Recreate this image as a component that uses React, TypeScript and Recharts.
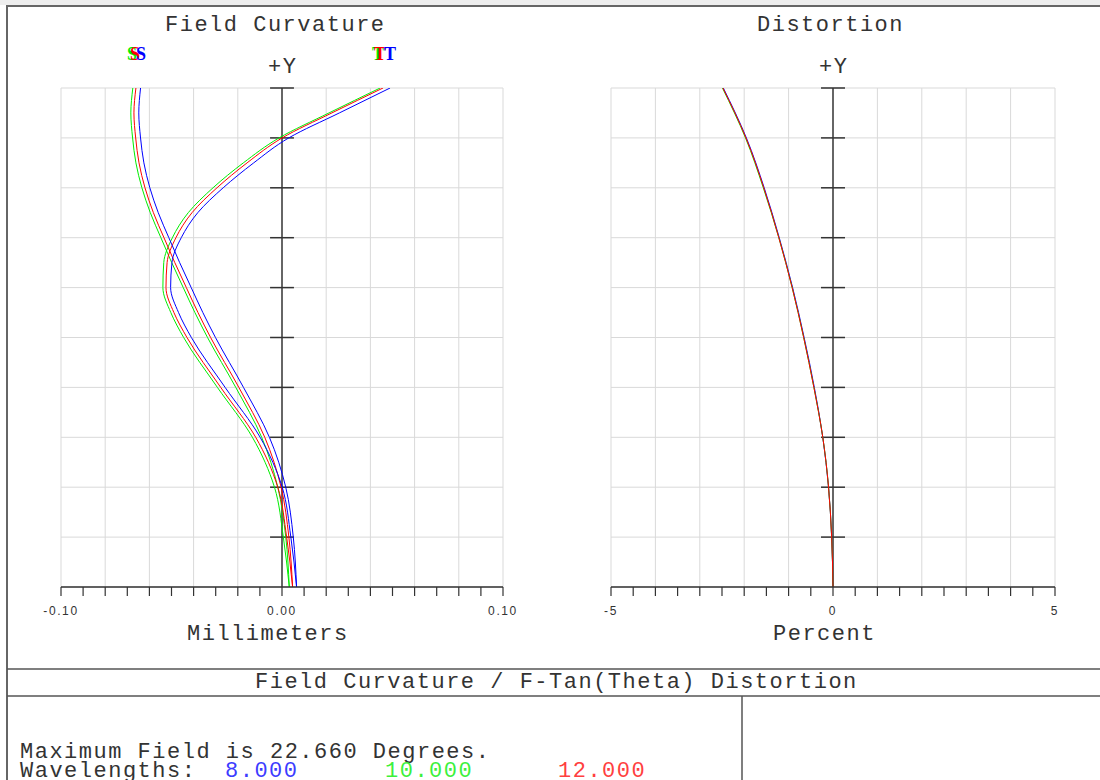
import React from 'react'
import { LineChart, Line, XAxis, YAxis, ReferenceLine } from 'recharts'

// field angle (deg) for field curvature samples
const fieldDeg = [0, 2.27, 4.53, 6.8, 9.06, 11.33, 12.46, 13.6, 14.73, 15.86, 17.0, 18.13, 19.26, 20.39, 21.53, 22.66]

// sagittal / tangential focus shift, mm
const sBlue = [0.0066, 0.0051, 0.0017, -0.0057, -0.0174, -0.0301, -0.0358, -0.0411, -0.0463, -0.0512, -0.056, -0.0598, -0.0625, -0.064, -0.0648, -0.064]
const sGreen = [0.0033, 0.0017, -0.0019, -0.0092, -0.0209, -0.0337, -0.0394, -0.0447, -0.0499, -0.0548, -0.0596, -0.0634, -0.0661, -0.0676, -0.0684, -0.0675]
const sRed = [0.0048, 0.0031, -0.0004, -0.0078, -0.0195, -0.0323, -0.038, -0.0433, -0.0485, -0.0534, -0.0582, -0.062, -0.0647, -0.0662, -0.067, -0.0661]
const tBlue = [0.0066, 0.004, 0.0001, -0.0099, -0.0257, -0.041, -0.0468, -0.0504, -0.0498, -0.0456, -0.0381, -0.0266, -0.0128, 0.003, 0.026, 0.0489]
const tGreen = [0.0033, 0.0006, -0.0034, -0.0134, -0.0292, -0.0445, -0.0503, -0.0539, -0.0535, -0.0496, -0.0424, -0.0312, -0.0175, -0.0014, 0.0213, 0.0444]
const tRed = [0.0048, 0.0021, -0.0019, -0.0119, -0.0277, -0.043, -0.0489, -0.0525, -0.052, -0.048, -0.0407, -0.0294, -0.0158, 0.0, 0.0226, 0.0457]

// distortion, percent
const distFieldDeg = [0, 2.27, 4.53, 6.8, 9.06, 11.33, 13.6, 15.86, 18.13, 20.39, 22.66]
const distBlue = [0, -0.03, -0.1, -0.23, -0.42, -0.65, -0.91, -1.21, -1.55, -1.95, -2.47]
const distGreen = [0, -0.03, -0.1, -0.23, -0.43, -0.66, -0.92, -1.22, -1.57, -1.97, -2.49]
const distRed = [0, -0.03, -0.1, -0.23, -0.43, -0.66, -0.92, -1.22, -1.56, -1.96, -2.48]

const fieldGrid = [0, 2.266, 4.532, 6.798, 9.064, 11.33, 13.596, 15.862, 18.128, 20.394, 22.66]

const fcTicks = [-0.1, -0.09, -0.08, -0.07, -0.06, -0.05, -0.04, -0.03, -0.02, -0.01, 0, 0.01, 0.02, 0.03, 0.04, 0.05, 0.06, 0.07, 0.08, 0.09, 0.1]
const fcGrid = [-0.1, -0.08, -0.06, -0.04, -0.02, 0.02, 0.04, 0.06, 0.08, 0.1]
const fcTickLabels: Record<string, string> = { '-0.1': '-0.10', '0': '0.00', '0.1': '0.10' }

const distTicks = [-5, -4.5, -4, -3.5, -3, -2.5, -2, -1.5, -1, -0.5, 0, 0.5, 1, 1.5, 2, 2.5, 3, 3.5, 4, 4.5, 5]
const distGrid = [-5, -4, -3, -2, -1, 1, 2, 3, 4, 5]
const distTickLabels: Record<string, string> = { '-5': '-5', '0': '0', '5': '5' }

const BLUE = '#0000ff'
const GREEN = '#00ee00'
const RED = '#ff0000'
const INK = '#333'
const MONO = "'Liberation Mono', 'DejaVu Sans Mono', monospace"
const SANS = "'Liberation Sans', Arial, sans-serif"

const toPoints = (xs: number[], ys: number[]) => ys.map((y, i) => ({ x: xs[i], y }))

interface Series { data: { x: number; y: number }[]; color: string }

function Panel({ width, margin, domain, ticks, grid, labels, series, tickHalf }: {
  width: number
  margin: { top: number; right: number; bottom: number; left: number }
  domain: [number, number]
  ticks: number[]
  grid: number[]
  labels: Record<string, string>
  series: Series[]
  tickHalf: number
}) {
  return (
    <LineChart width={width} height={660} margin={margin}>
      {grid.map(v => (
        <ReferenceLine key={'gx' + v} x={v} stroke="#d9d9d9" strokeWidth={1} />
      ))}
      {fieldGrid.map(v => (
        <ReferenceLine key={'gy' + v} y={v} stroke="#d9d9d9" strokeWidth={1} />
      ))}
      <ReferenceLine x={0} stroke={INK} strokeWidth={1.5} />
      {fieldGrid.slice(1).map(v => (
        <ReferenceLine
          key={'ct' + v}
          segment={[{ x: -tickHalf, y: v }, { x: tickHalf, y: v }]}
          stroke={INK}
          strokeWidth={1.5}
        />
      ))}
      <XAxis
        type="number"
        dataKey="x"
        domain={domain}
        ticks={ticks}
        interval={0}
        allowDataOverflow
        height={30}
        axisLine={{ stroke: INK, strokeWidth: 1.5 }}
        tickLine={{ stroke: INK, strokeWidth: 1.2 }}
        tickSize={9}
        tickMargin={10}
        tick={{ fontSize: 12, fill: INK, fontFamily: SANS, letterSpacing: 1.6 }}
        tickFormatter={(v: number) => labels[String(v)] ?? ''}
      />
      <YAxis type="number" domain={[0, 22.66]} hide allowDataOverflow />
      {series.map((s, i) => (
        <Line
          key={i}
          data={s.data}
          dataKey="y"
          type="monotoneY"
          stroke={s.color}
          strokeWidth={1}
          dot={false}
          isAnimationActive={false}
        />
      ))}
    </LineChart>
  )
}

const txt = { fontFamily: MONO, fontSize: 22, letterSpacing: 1.5, fill: INK }
const stLabel = { fontFamily: "'Liberation Serif', serif", fontWeight: 700, fontSize: 18 }

export default function App() {
  const fcSeries: Series[] = [
    { data: toPoints(sGreen, fieldDeg), color: GREEN },
    { data: toPoints(tGreen, fieldDeg), color: GREEN },
    { data: toPoints(sRed, fieldDeg), color: RED },
    { data: toPoints(tRed, fieldDeg), color: RED },
    { data: toPoints(sBlue, fieldDeg), color: BLUE },
    { data: toPoints(tBlue, fieldDeg), color: BLUE },
  ]
  const distSeries: Series[] = [
    { data: toPoints(distBlue, distFieldDeg), color: BLUE },
    { data: toPoints(distGreen, distFieldDeg), color: GREEN },
    { data: toPoints(distRed, distFieldDeg), color: RED },
  ]

  return (
    <div style={{ position: 'absolute', left: 0, top: 0, width: 1100, height: 780, background: '#fff', overflow: 'hidden' }}>
      <svg width={1100} height={780} style={{ position: 'absolute', left: 0, top: 0 }}>
        <rect x={0} y={0} width={1100} height={5} fill="#eeeeee" />
        <line x1={7} y1={6} x2={1100} y2={6} stroke="#666" strokeWidth={2} />
        <line x1={7} y1={5} x2={7} y2={780} stroke="#666" strokeWidth={2} />
        <line x1={7} y1={669} x2={1100} y2={669} stroke="#555" strokeWidth={1.5} />
        <line x1={7} y1={696} x2={1100} y2={696} stroke="#555" strokeWidth={1.5} />
        <line x1={742} y1={696} x2={742} y2={780} stroke="#555" strokeWidth={1.5} />

        <text x={165} y={31} style={txt}>Field Curvature</text>
        <text x={757} y={31} style={txt}>Distortion</text>
        <text x={268} y={73} style={txt}>+Y</text>
        <text x={819} y={73} style={txt}>+Y</text>
        <text x={187} y={640} style={txt}>Millimeters</text>
        <text x={773} y={640} style={txt}>Percent</text>
        <text x={255} y={688} style={txt}>Field Curvature / F-Tan(Theta) Distortion</text>
        <text x={20} y={758} style={txt}>Maximum Field is 22.660 Degrees.</text>
        <text x={20} y={777} style={txt}>Wavelengths:</text>
        <text x={225} y={777} style={{ ...txt, fill: '#3c3cff' }}>8.000</text>
        <text x={385} y={777} style={{ ...txt, fill: '#3cf03c' }}>10.000</text>
        <text x={558} y={777} style={{ ...txt, fill: '#ff4040' }}>12.000</text>

        <text x={127} y={60} style={{ ...stLabel, fill: GREEN }}>S</text>
        <text x={130} y={60} style={{ ...stLabel, fill: RED }}>S</text>
        <text x={136} y={60} style={{ ...stLabel, fill: BLUE }}>S</text>
        <text x={372} y={60} style={{ ...stLabel, fill: GREEN }}>T</text>
        <text x={374} y={60} style={{ ...stLabel, fill: RED }}>T</text>
        <text x={384} y={60} style={{ ...stLabel, fill: BLUE }}>T</text>
      </svg>

      <div style={{ position: 'absolute', left: 0, top: 0 }}>
        <Panel
          width={560}
          margin={{ top: 88, right: 57, bottom: 43, left: 61 }}
          domain={[-0.1, 0.1]}
          ticks={fcTicks}
          grid={fcGrid}
          labels={fcTickLabels}
          series={fcSeries}
          tickHalf={0.0054}
        />
      </div>
      <div style={{ position: 'absolute', left: 560, top: 0 }}>
        <Panel
          width={540}
          margin={{ top: 88, right: 45, bottom: 43, left: 51 }}
          domain={[-5, 5]}
          ticks={distTicks}
          grid={distGrid}
          labels={distTickLabels}
          series={distSeries}
          tickHalf={0.27}
        />
      </div>
    </div>
  )
}
